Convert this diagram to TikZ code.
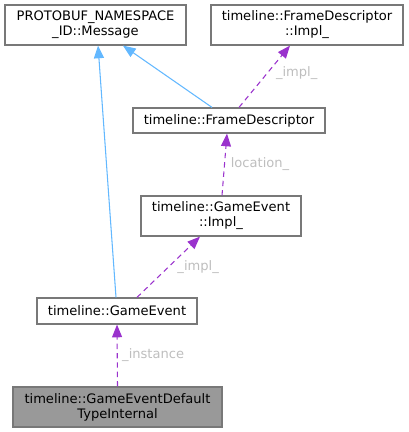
\documentclass[tikz,border=0pt]{standalone}
\usepackage{fontspec}
\setmainfont{DejaVu Sans}
\usetikzlibrary{arrows.meta}
\definecolor{boxgray}{RGB}{120,120,120}
\definecolor{basefill}{RGB}{153,153,153}
\definecolor{inhblue}{RGB}{99,184,255}
\definecolor{usepurple}{RGB}{154,50,205}
\definecolor{labelgray}{RGB}{190,190,190}

\begin{document}
\begin{tikzpicture}[x=0.75pt,y=-0.75pt,
    cls/.style={draw=boxgray,line width=0.9pt,inner sep=0pt,align=center,
      font=\fontsize{9.8}{11.25}\selectfont},
    inherit/.style={draw=inhblue,line width=0.8pt,
      -{Triangle[length=9.5pt,width=7.5pt]}},
    member/.style={draw=usepurple,line width=0.8pt,dash pattern=on 4pt off 3pt,
      -{Triangle[length=9.5pt,width=7.5pt]}},
    lbl/.style={text=labelgray,font=\fontsize{9.8}{11.25}\selectfont}]
  \useasboundingbox (0,0) rectangle (408,432);
  \node[cls,minimum width=181*0.75pt,minimum height=40*0.75pt] (msg) at (95.5,25)
    {PROTOBUF\_NAMESPACE\\\_ID::Message};
  \node[cls,minimum width=192*0.75pt,minimum height=40*0.75pt] (fdimpl) at (307,25)
    {timeline::FrameDescriptor\\::Impl\_};
  \node[cls,minimum width=192*0.75pt,minimum height=25*0.75pt] (fd) at (229,120.5)
    {timeline::FrameDescriptor};
  \node[cls,minimum width=160*0.75pt,minimum height=40*0.75pt] (geimpl) at (221,216)
    {timeline::GameEvent\\::Impl\_};
  \node[cls,minimum width=160*0.75pt,minimum height=26*0.75pt] (ge) at (117,311)
    {timeline::GameEvent};
  \node[cls,fill=basefill,minimum width=209*0.75pt,minimum height=40*0.75pt] (dti) at (117.5,407)
    {timeline::GameEventDefault\\TypeInternal};

  % inheritance
  \draw[inherit] ([xshift=-0.75pt]ge.north) -- ([xshift=1.9pt]msg.south);
  \draw[inherit] ([xshift=-12.75pt]fd.north) -- ([xshift=20.6pt]msg.south);

  % members
  \draw[member] ([xshift=7.5pt]fd.north) -- ([xshift=-12.75pt]fdimpl.south)
    node[lbl,pos=0.55,right=3pt] {\_impl\_};
  \draw[member] ([xshift=0.75pt]geimpl.north) -- ([xshift=-1.5pt]fd.south)
    node[lbl,pos=0.5,right=1pt] {location\_};
  \draw[member] ([xshift=15pt]ge.north) -- ([xshift=-15.75pt]geimpl.south)
    node[lbl,pos=0.5,right=3pt] {\_impl\_};
  \draw[member] (dti.north) -- (ge.south)
    node[lbl,pos=0.5,right=0pt] {\_instance};
\end{tikzpicture}
\end{document}
